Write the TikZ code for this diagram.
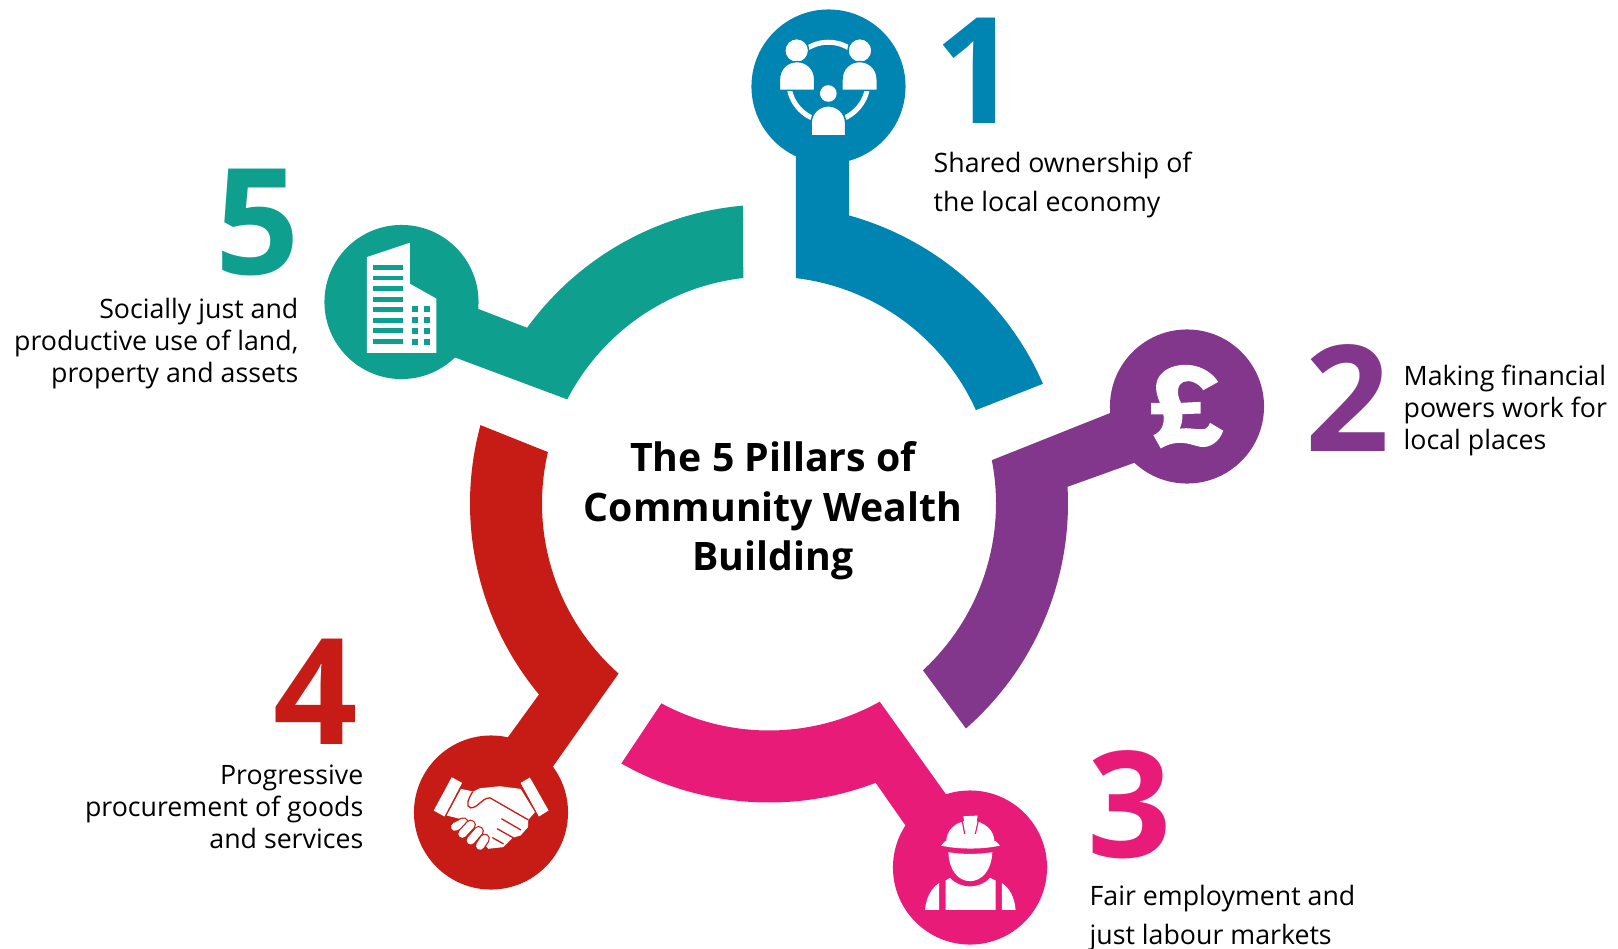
\documentclass[tikz,border=0pt]{standalone}
\usepackage{fontspec}
\setmainfont{Open Sans}
\definecolor{pillarblue}{HTML}{0084B2}
\definecolor{pillarpurple}{HTML}{82368C}
\definecolor{pillarpink}{HTML}{E91B78}
\definecolor{pillarred}{HTML}{C71C16}
\definecolor{pillarteal}{HTML}{0E9F8F}
\tikzset{
  disc/.style={circle, fill=#1, minimum size=1.54cm, inner sep=0pt},
  bignum/.style={inner sep=0pt, text=#1, font=\fontsize{42}{42}\selectfont\bfseries},
  caption/.style={inner sep=0pt, font=\fontsize{7.6}{9.1}\selectfont},
  widecaption/.style={inner sep=0pt, font=\fontsize{7.6}{11.0}\selectfont},
  iconat/.style n args={3}{shift={#1}, x=0.003333cm, y=-0.003333cm, shift={(#2,#3)}},
}
\begin{document}
\begin{tikzpicture}[x=0.01cm, y=0.01cm]
  \useasboundingbox (-769,-444.5) rectangle (849,503.5);

  % Pillars
  \fill[pillarblue] (83.2:227) -- (27,417) -- (80,417) -- (74.5:299)
    arc[start angle=74.5, end angle=23.6, radius=299] -- (24.3:227)
    arc[start angle=24.3, end angle=83.2, radius=227] -- cycle;
  \fill[pillarpurple] (11:227) -- (360,98) -- (384,47.4) -- (3.2:299)
    arc[start angle=3.2, end angle=-48.8, radius=299] -- (-47.3:227)
    arc[start angle=-47.3, end angle=11, radius=227] -- cycle;
  \fill[pillarpink] (-60.8:227) -- (190,-309) -- (147,-337) -- (-69.1:299)
    arc[start angle=-69.1, end angle=-119.6, radius=299] -- (-118.3:227)
    arc[start angle=-118.3, end angle=-60.8, radius=227] -- cycle;
  \fill[pillarred] (228.5:227) -- (-228,-280) -- (-270,-246) -- (219.7:299)
    arc[start angle=219.7, end angle=164.8, radius=299] -- (166.9:227)
    arc[start angle=166.9, end angle=228.5, radius=227] -- cycle;
  \fill[pillarteal] (152.7:227) -- (-330,152) -- (-310,202) -- (144:299)
    arc[start angle=144, end angle=95, radius=299] -- (96.5:227)
    arc[start angle=96.5, end angle=152.7, radius=227] -- cycle;

  % Discs
  \node (ownership) [disc=pillarblue] at (59.5,417) {};
  \node (finance) [disc=pillarpurple] at (418,97) {};
  \node (employment) [disc=pillarpink] at (201,-364) {};
  \node (procurement) [disc=pillarred] at (-278,-309) {};
  \node (land) [disc=pillarteal] at (-367.5,201.5) {};

  % Title
  \node (title) [align=center, inner sep=0pt, font=\fontsize{11.15}{14.1}\selectfont\bfseries] at (4,-7.3)
    {The 5 Pillars of\\Community Wealth\\Building};

  % Numbers
  \node (numone) [bignum=pillarblue, anchor=base west] at (165,379.5) {1};
  \node (numtwo) [bignum=pillarpurple, anchor=base west] at (536,52.5) {2};
  \node (numthree) [bignum=pillarpink, anchor=base west] at (318,-353.5) {3};
  \node (numfour) [bignum=pillarred, anchor=base east] at (-410,-240.5) {4};
  \node (numfive) [bignum=pillarteal, anchor=base east] at (-468,229) {5};

  % Captions
  \node (capone) [widecaption, align=left, anchor=north west] at (164,352)
    {Shared ownership of\\the local economy};
  \node (captwo) [caption, align=left, anchor=north west] at (634,139)
    {Making financial\\powers work for\\local places};
  \node (capthree) [widecaption, align=left, anchor=north west] at (320,-381)
    {Fair employment and\\just labour markets};
  \node (capfour) [caption, align=right, anchor=north east] at (-405,-261)
    {Progressive\\procurement of goods\\and services};
  \node (capfive) [caption, align=right, anchor=north east] at (-470,206)
    {Socially just and\\productive use of land,\\property and assets};

  % Icon: people in a ring
  \begin{scope}[iconat={(ownership)}{-295.5}{-258}]
    \draw[white, line width=0.05cm] (295,244) circle[radius=119];
    \filldraw[white, draw=pillarblue, line width=0.015cm] (200,150) circle[radius=36];
    \filldraw[white, draw=pillarblue, line width=0.015cm] (390,150) circle[radius=36];
    \fill[white] (295,279) circle[radius=25];
    \filldraw[white, draw=pillarblue, line width=0.015cm]
      (148,270) -- (148,236) .. controls (148,205) and (172,183) .. (201,183)
      .. controls (230,183) and (254,205) .. (254,236) -- (254,270) -- cycle;
    \filldraw[white, draw=pillarblue, line width=0.015cm]
      (336,270) -- (336,236) .. controls (336,205) and (360,183) .. (389,183)
      .. controls (418,183) and (442,205) .. (442,236) -- (442,270) -- cycle;
    \filldraw[white, draw=pillarblue, line width=0.015cm]
      (243,406) -- (243,368) .. controls (243,338) and (268,316) .. (295,316)
      .. controls (322,316) and (347,338) .. (347,368) -- (347,406) -- cycle;
  \end{scope}

  % Icon: pound
  \begin{scope}[iconat={(finance)}{-261}{-259}]
    \fill[white] (355,185) -- (310,210) .. controls (295,188) and (270,178) .. (250,185)
      .. controls (232,192) and (228,220) .. (243,248) -- (302,245) -- (302,280) -- (247,282)
      .. controls (248,300) and (245,315) .. (238,326) .. controls (265,320) and (300,332) .. (318,325)
      .. controls (325,320) and (328,315) .. (330,308) -- (370,332)
      .. controls (358,365) and (330,385) .. (300,380) .. controls (265,372) and (235,355) .. (182,385)
      -- (160,345) .. controls (185,335) and (195,310) .. (190,283) -- (153,283) -- (153,248) -- (180,248)
      .. controls (165,215) and (160,180) .. (190,155) .. controls (225,125) and (310,120) .. (355,185) -- cycle;
  \end{scope}

  % Icon: worker
  \begin{scope}[iconat={(employment)}{-270}{-261}]
    \fill[white] (198,185) .. controls (200,150) and (220,125) .. (270,118)
      .. controls (320,125) and (342,150) .. (344,185) -- cycle;
    \draw[pillarpink, line width=0.012cm] (245,112) -- (254,160);
    \draw[pillarpink, line width=0.012cm] (297,112) -- (286,160);
    \fill[white] (250,107) -- (293,105) -- (284,157) -- (258,157) -- cycle;
    \fill[white] (183,195) -- (195,182) -- (348,182) -- (360,195)
      .. controls (310,207) and (232,207) .. (183,195) -- cycle;
    \fill[white] (205,215) .. controls (250,222) and (290,222) .. (337,215)
      .. controls (335,270) and (305,302) .. (270,302)
      .. controls (235,302) and (207,270) .. (205,215) -- cycle;
    \fill[white] (197,388) -- (197,300) -- (210,292) .. controls (225,310) and (250,318) .. (270,318)
      .. controls (290,318) and (315,310) .. (330,292) -- (347,300) -- (347,388) -- cycle;
    \fill[white] (135,388) .. controls (138,350) and (155,322) .. (177,308) -- (177,388) -- cycle;
    \fill[white] (407,388) .. controls (404,350) and (388,322) .. (366,308) -- (366,388) -- cycle;
  \end{scope}

  % Icon: handshake
  \begin{scope}[iconat={(procurement)}{-273}{-276}]
    \fill[white] (155,170) -- (186,187) -- (133,288) -- (101,270) -- cycle;
    \fill[white] (390,171) -- (362,187) -- (417,288) -- (446,270) -- cycle;
    \fill[white] (183,205) -- (220,213) -- (240,203) -- (300,197) -- (362,205)
      -- (405,275) -- (385,298) -- (384,320) -- (362,345) -- (338,352) -- (310,380) -- (265,385)
      -- (240,355) -- (205,300) -- (180,295) -- (140,285) -- cycle;
    \draw[pillarred, line width=0.013cm] (218,213) .. controls (205,235) and (195,258) .. (212,262)
      .. controls (235,262) and (245,232) .. (270,232) -- (385,298);
    \draw[pillarred, line width=0.013cm, line cap=round] (305,295) -- (362,328);
    \draw[pillarred, line width=0.013cm, line cap=round] (292,325) -- (340,352);
    \draw[pillarred, line width=0.013cm, line cap=round] (278,352) -- (310,370);
    \foreach \xa/\ya/\xb/\yb in {165/319/190/306, 187/340/212/313, 212/360/236/332, 240/376/254/355} {
      \draw[pillarred, line width=0.105cm, line cap=round] (\xa,\ya) -- (\xb,\yb);
      \draw[white, line width=0.08cm, line cap=round] (\xa,\ya) -- (\xb,\yb);
    }
  \end{scope}

  % Icon: building
  \begin{scope}[iconat={(land)}{-275}{-275}]
    \fill[white] (171,140) -- (300,97) -- (300,220) -- (380,265) -- (380,428) -- (171,428) -- cycle;
    \foreach \y in {164,196,228,260,291,323,354,387} {
      \fill[pillarteal] (189,\y) rectangle (280,\y+14);
    }
    \foreach \y in {286,319,352,386} {
      \fill[pillarteal] (306,\y) rectangle (326,\y+19);
      \fill[pillarteal] (342,\y) rectangle (361,\y+19);
    }
  \end{scope}
\end{tikzpicture}
\end{document}
